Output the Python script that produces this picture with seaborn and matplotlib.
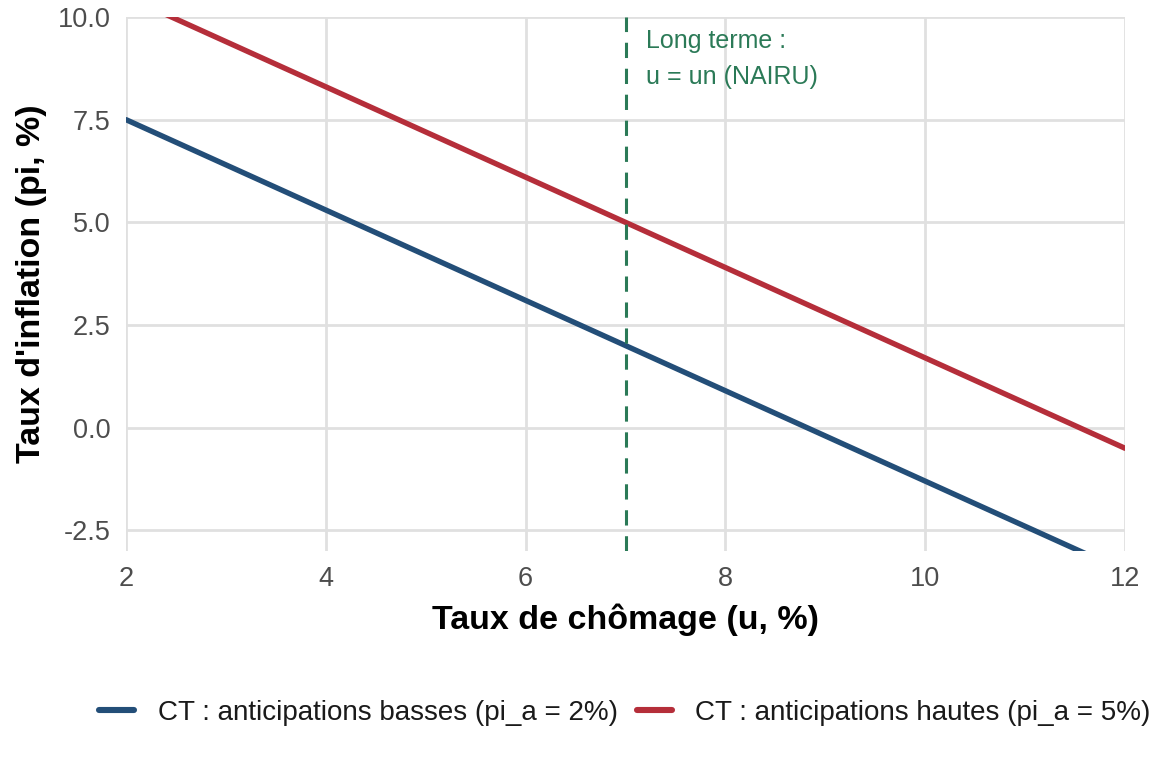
import matplotlib
matplotlib.use("Agg")
import matplotlib.pyplot as plt
import seaborn as sns
import pandas as pd

u = [2, 4, 6, 7, 8, 10, 12]
pi_low = [7.5, 5.3, 3.1, 2.0, 0.9, -1.3, -3.5]
pi_high = [10.5, 8.3, 6.1, 5.0, 3.9, 1.7, -0.5]
label_low = "CT : anticipations basses (pi_a = 2%)"
label_high = "CT : anticipations hautes (pi_a = 5%)"
u_nairu = 7
x_ticks = [2, 4, 6, 8, 10, 12]
y_ticks = [-2.5, 0.0, 2.5, 5.0, 7.5, 10.0]

df = pd.concat([
    pd.DataFrame({"u": u, "pi": pi_low, "courbe": label_low}),
    pd.DataFrame({"u": u, "pi": pi_high, "courbe": label_high}),
])

sns.set_theme(style="whitegrid")
plt.rcParams["font.family"] = ["Liberation Sans", "DejaVu Sans"]

fig = plt.figure(figsize=(11.52, 7.68), dpi=100)
ax = fig.add_axes([0.1094, 0.2826, 0.8672, 0.6953])

palette = {label_low: "#234e78", label_high: "#b52e3a"}
sns.lineplot(data=df, x="u", y="pi", hue="courbe", palette=palette,
             linewidth=3.9, ax=ax, legend=True)

ax.axvline(u_nairu, color="#2b7a57", linewidth=2.2, linestyle=(0, (5, 3.5)), zorder=3)
ax.text(u_nairu + 0.2, 9.7, "Long terme :\nu = un (NAIRU)", color="#2b7a57",
        fontsize=18, va="top", ha="left", linespacing=1.62)

ax.set_xlim(2, 12)
ax.set_ylim(-3.0, 10.0)
ax.set_xticks(x_ticks)
ax.set_yticks(y_ticks)
ax.set_yticklabels([f"{v:.1f}" for v in y_ticks])
ax.tick_params(axis="both", labelsize=19.5, colors="#4d4d4d", length=0)
ax.tick_params(axis="x", pad=11)
ax.tick_params(axis="y", pad=11)
for lab in ax.get_xticklabels() + ax.get_yticklabels():
    lab.set_color("#4d4d4d")
ax.grid(True, color="#e0e0e0", linewidth=2.0)
for s in ax.spines.values():
    s.set_visible(False)
ax.set_facecolor("white")

ax.set_xlabel("Taux de chômage (u, %)", fontsize=24.5, fontweight="bold",
              labelpad=8, color="black")
ax.set_ylabel("Taux d'inflation (pi, %)", fontsize=24.5, fontweight="bold",
              labelpad=8, color="black")

handles, labels = ax.get_legend_handles_labels()
leg = ax.legend(handles, labels, loc="center", ncol=2, frameon=False, fontsize=20,
                handlelength=1.25, columnspacing=0.7, handletextpad=0.85)
for lh in leg.get_lines():
    lh.set_linewidth(4.4)
for t in leg.get_texts():
    t.set_color("#1a1a1a")
leg.set_bbox_to_anchor((0.5425, 1 - 713 / 768), transform=fig.transFigure)

fig.savefig("out.png", dpi=100)
